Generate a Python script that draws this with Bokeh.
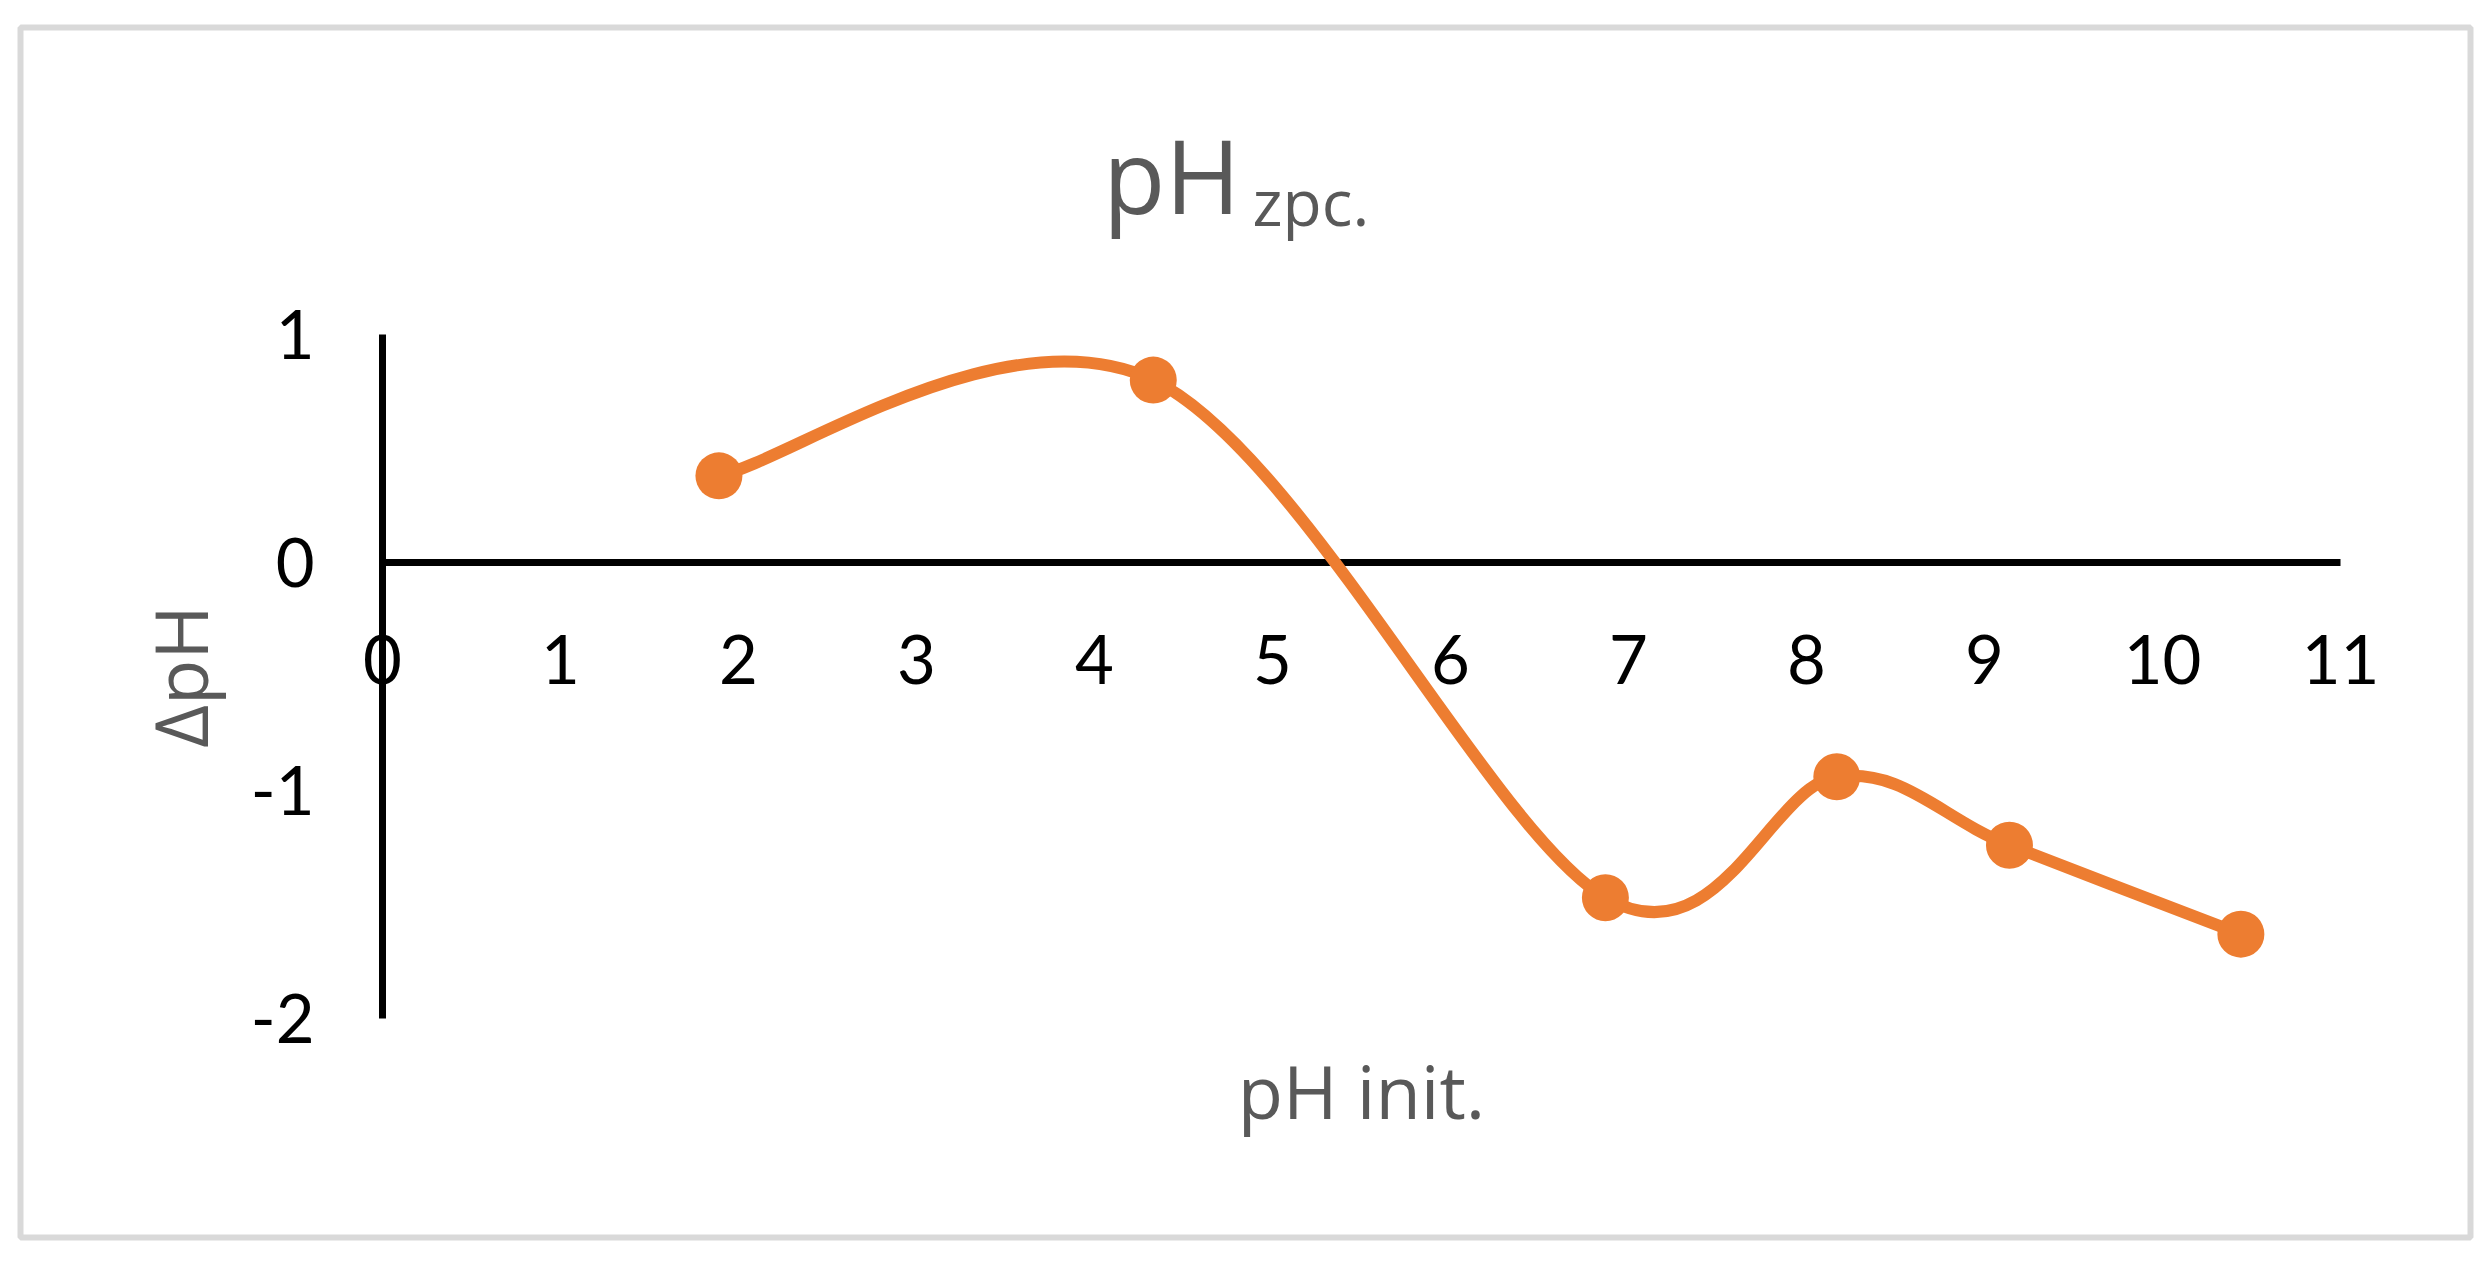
import numpy as np
from bokeh.plotting import figure
from bokeh.models import Range1d, LinearAxis, FixedTicker, Label
from bokeh.embed import file_html
from bokeh.resources import INLINE

# ---- data ----
ph_init = [1.89, 4.33, 6.87, 8.17, 9.14, 10.44]
delta_ph = [0.38, 0.80, -1.47, -0.94, -1.24, -1.63]
x_ticks = list(range(0, 12))
y_ticks = [-2, -1, 0, 1]
y_tick_labels = {-2: "-2", -1: "-1", 0: "0", 1: "1"}
x_bounds = (0, 11)
y_bounds = (-2, 1)
title_main = "pH"
title_sub = "zpc."
x_title = "pH init."
y_title = "ΔpH"

ORANGE = "#ED7D31"
GREY = "#595959"

# ---- Excel-style smoothed line: Catmull-Rom -> cubic Bezier ----
xs = np.array(ph_init, dtype=float)
ys = np.array(delta_ph, dtype=float)
n = len(xs)
xp = np.concatenate([[xs[0]], xs, [xs[-1]]])
yp = np.concatenate([[ys[0]], ys, [ys[-1]]])
cx0 = xs[:-1] + (xp[2:n + 1] - xp[0:n - 1]) / 6.0
cy0 = ys[:-1] + (yp[2:n + 1] - yp[0:n - 1]) / 6.0
cx1 = xs[1:] - (xp[3:n + 2] - xp[1:n]) / 6.0
cy1 = ys[1:] - (yp[3:n + 2] - yp[1:n]) / 6.0

p = figure(
    width=2476, height=1250,
    x_range=Range1d(-2.0337, 11.730),
    y_range=Range1d(-2.9605, 2.3465),
    x_axis_location=None, y_axis_location=None,
    toolbar_location=None, output_backend="svg",
    min_border_left=20, min_border_right=6,
    min_border_top=27, min_border_bottom=13,
)
p.title.visible = False
p.grid.visible = False
p.background_fill_color = "white"
p.border_fill_color = "white"
p.outline_line_color = "#D9D9D9"
p.outline_line_width = 6

# y axis crossing at x = 0
yax = LinearAxis(fixed_location=0, bounds=y_bounds, ticker=FixedTicker(ticks=y_ticks))
yax.major_label_overrides = y_tick_labels
# x axis crossing at y = 0
xax = LinearAxis(fixed_location=0, bounds=x_bounds, ticker=FixedTicker(ticks=x_ticks))
for ax in (yax, xax):
    ax.axis_line_color = "black"
    ax.axis_line_width = 7
    ax.major_tick_out = 0
    ax.major_tick_in = 0
    ax.minor_tick_out = 0
    ax.minor_tick_in = 0
    ax.major_label_text_font = "Lato"
    ax.major_label_text_font_size = "67px"
    ax.major_label_text_color = "black"
    ax.axis_label_text_font = "Open Sans"
    ax.axis_label_text_font_size = "74px"
    ax.axis_label_text_font_style = "normal"
    ax.axis_label_text_color = GREY
    ax.level = "underlay"

yax.major_label_standoff = 68
yax.axis_label = y_title
yax.axis_label_standoff = 18

xax.major_label_standoff = 72
xax.axis_label = x_title
xax.axis_label_standoff = 353

p.add_layout(yax, "left")
p.add_layout(xax, "below")

p.bezier(x0=xs[:-1], y0=ys[:-1], x1=xs[1:], y1=ys[1:],
         cx0=cx0, cy0=cy0, cx1=cx1, cy1=cy1,
         line_color=ORANGE, line_width=12, line_cap="round")
p.scatter(ph_init, delta_ph, size=47, fill_color=ORANGE, line_color=None)

p.add_layout(Label(x=4.820, y=1.700, text=title_main, text_align="right",
                   text_baseline="alphabetic", text_font="Open Sans",
                   text_font_size="102px", text_color=GREY))
p.add_layout(Label(x=4.888, y=1.582, text=title_sub, text_align="left",
                   text_baseline="alphabetic", text_font="Open Sans",
                   text_font_size="64px", text_color=GREY))

open("out.html", "w").write(file_html(p, INLINE))
